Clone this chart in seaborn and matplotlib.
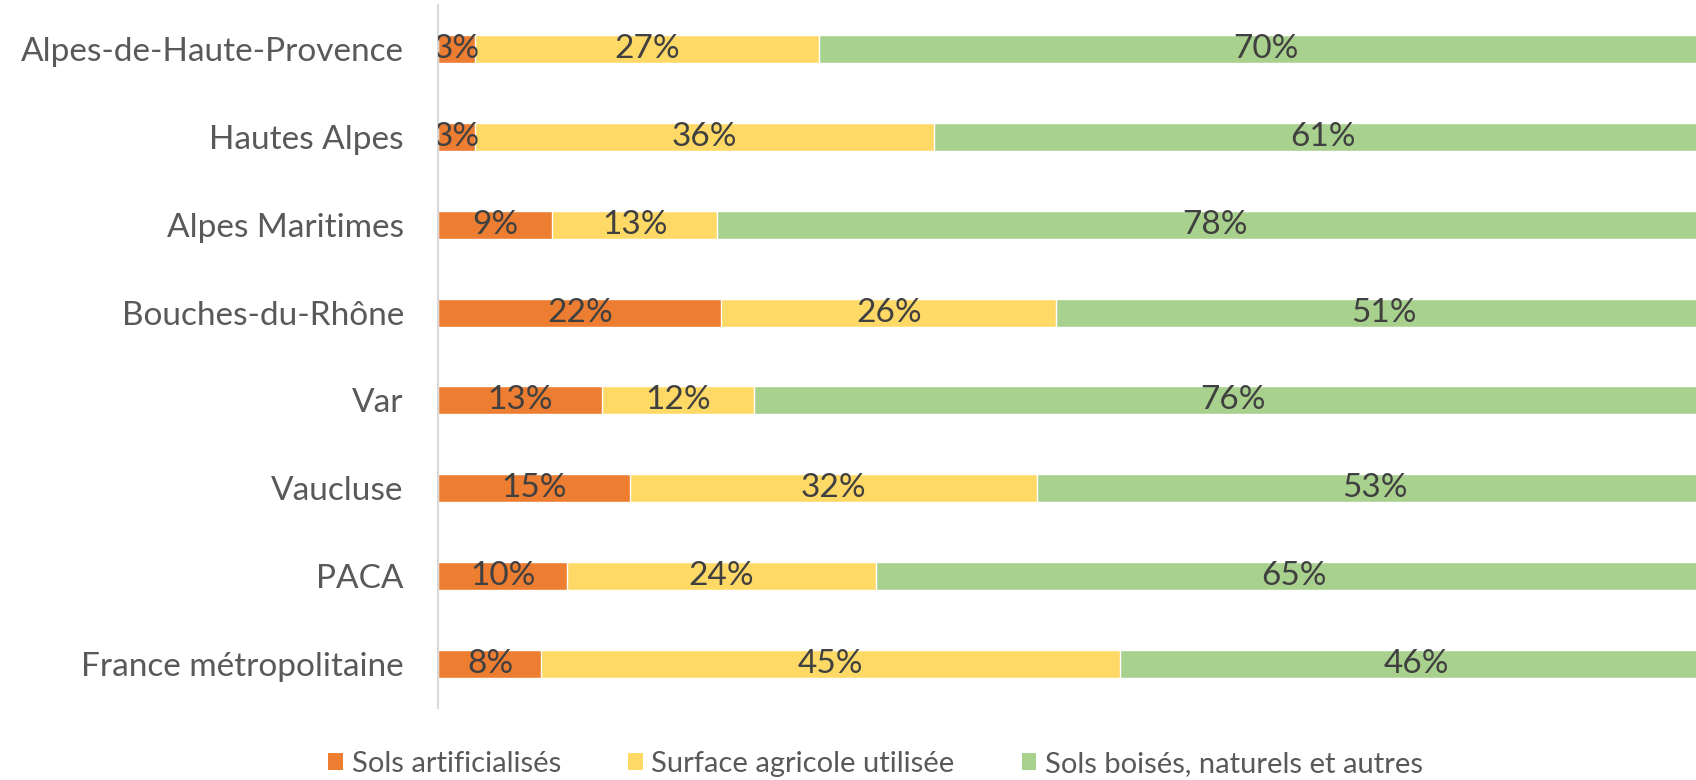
import pandas as pd
import seaborn as sns
import matplotlib.pyplot as plt
from matplotlib.patches import Patch

# Occupation des sols par territoire (en %)
territoires = ['Alpes-de-Haute-Provence', 'Hautes Alpes', 'Alpes Maritimes', 'Bouches-du-Rhône',
               'Var', 'Vaucluse', 'PACA', 'France métropolitaine']
artificialises = [2.9, 2.9, 8.9, 22, 13, 15, 10, 8]
agricole = [27.0, 36.0, 13.0, 26, 12, 32, 24, 45]
boises = [70.1, 61.1, 78.1, 51, 76, 53, 65, 46]

series = ['Sols artificialisés', 'Surface agricole utilisée', 'Sols boisés, naturels et autres']
couleurs = ['#ED7D31', '#FFD966', '#A9D18E']

df = pd.DataFrame({'territoire': territoires,
                   series[0]: artificialises,
                   series[1]: agricole,
                   series[2]: boises})

# 100% empilé : on normalise chaque ligne comme le fait Excel
total = df[series].sum(axis=1)
parts = df[series].div(total, axis=0) * 100
cumul = parts.cumsum(axis=1)
for s in series:
    df['cum_' + s] = cumul[s]

sns.set_theme(style='white')
plt.rcParams['font.family'] = ['Lato', 'DejaVu Sans']

fig = plt.figure(figsize=(16.96, 7.8), dpi=100)
ax = fig.add_axes([438.5 / 1696, 1 - 708 / 780, 1273.5 / 1696, 703 / 780])

# on dessine du plus long au plus court pour obtenir l'empilement
for s, c in reversed(list(zip(series, couleurs))):
    sns.barplot(data=df, x='cum_' + s, y='territoire', color=c, saturation=1,
                width=0.32, orient='h', errorbar=None, ax=ax)

# étiquettes de valeurs centrées dans chaque segment
for i in range(len(df)):
    gauche = 0
    for s in series:
        largeur = parts[s][i]
        ax.text(gauche + largeur / 2, i, f"{round(df[s][i]):.0f}%", ha='center', va='center',
                fontsize=24, color='#404040', clip_on=True)
        gauche += largeur

ax.set_xlim(0, 100)
ax.set_ylim(7.5, -0.5)
ax.set_xlabel('')
ax.set_ylabel('')
ax.set_xticks([])
ax.tick_params(axis='y', length=0, pad=25, labelsize=24, labelcolor='#595959')
for side in ['top', 'right', 'bottom']:
    ax.spines[side].set_visible(False)
ax.spines['left'].set_color('#d9d9d9')
ax.spines['left'].set_linewidth(1.5)

handles = [Patch(facecolor=c, edgecolor='none') for c in couleurs]
fig.legend(handles, series, loc='center', bbox_to_anchor=(0.5163, 0.0205), ncol=3,
           frameon=False, fontsize=21, handlelength=0.5, handleheight=0.55,
           handletextpad=0.3, columnspacing=2.3, labelcolor='#595959')

fig.savefig('out.png', dpi=100)
